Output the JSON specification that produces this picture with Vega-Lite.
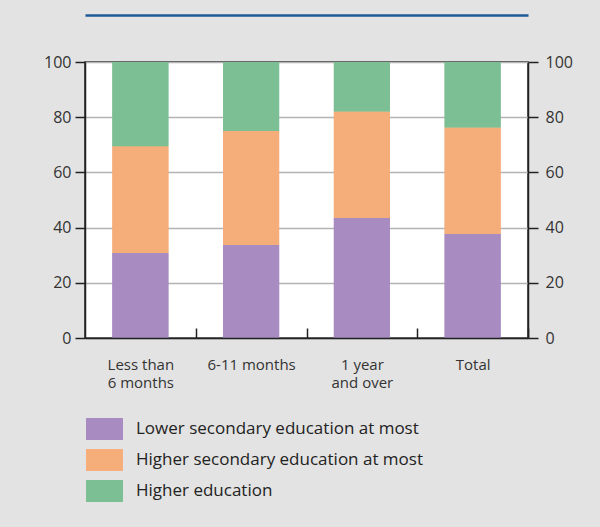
{
  "$schema": "https://vega.github.io/schema/vega-lite/v6.json",
  "autosize": {"type": "none"},
  "width": 443,
  "height": 276,
  "padding": {"left": 85, "top": 62, "right": 72, "bottom": 189},
  "background": "#e3e3e3",
  "config": {
    "font": "Open Sans",
    "view": {"fill": "white", "stroke": "#222", "strokeWidth": 1.5}
  },
  "data": {
    "values": [
      {"period": "Less than 6 months", "level": "Lower secondary education at most", "k": 1, "share": 30.8},
      {"period": "Less than 6 months", "level": "Higher secondary education at most", "k": 2, "share": 38.7},
      {"period": "Less than 6 months", "level": "Higher education", "k": 3, "share": 30.5},
      {"period": "6-11 months", "level": "Lower secondary education at most", "k": 1, "share": 33.7},
      {"period": "6-11 months", "level": "Higher secondary education at most", "k": 2, "share": 41.3},
      {"period": "6-11 months", "level": "Higher education", "k": 3, "share": 25.0},
      {"period": "1 year and over", "level": "Lower secondary education at most", "k": 1, "share": 43.5},
      {"period": "1 year and over", "level": "Higher secondary education at most", "k": 2, "share": 38.6},
      {"period": "1 year and over", "level": "Higher education", "k": 3, "share": 17.9},
      {"period": "Total", "level": "Lower secondary education at most", "k": 1, "share": 37.7},
      {"period": "Total", "level": "Higher secondary education at most", "k": 2, "share": 38.6},
      {"period": "Total", "level": "Higher education", "k": 3, "share": 23.7}
    ]
  },
  "layer": [
    {
      "mark": {"type": "bar"},
      "encoding": {
        "x": {
          "field": "period", "type": "nominal", "sort": null,
          "scale": {"paddingInner": 0.494, "paddingOuter": 0.247},
          "axis": {
            "title": null, "labelAngle": 0, "tickSize": -10, "tickOffset": 55.375, "labelOffset": -55.375, "zindex": 2,
            "tickColor": "#222", "tickWidth": 1.5, "domainColor": "#222", "domainWidth": 1.5,
            "labelFontSize": 15, "labelColor": "#333", "labelLineHeight": 18, "labelPadding": 29,
            "labelBaseline": "top",
            "labelExpr": "datum.value == 'Less than 6 months' ? ['Less than', '6 months'] : datum.value == '1 year and over' ? ['1 year', 'and over'] : datum.value"
          }
        },
        "y": {
          "field": "share", "type": "quantitative", "stack": "zero",
          "scale": {"domain": [0, 100], "nice": false},
          "axis": {
            "title": null, "values": [0, 20, 40, 60, 80, 100], "tickSize": 10, "labelPadding": 4,
            "tickColor": "#222", "tickWidth": 1.5, "domainColor": "#222", "domainWidth": 1.5,
            "grid": true, "gridColor": "#b3b3b3", "gridWidth": 1.5,
            "labelFontSize": 16, "labelColor": "#333"
          }
        },
        "color": {
          "field": "level", "type": "nominal",
          "scale": {
            "domain": ["Lower secondary education at most", "Higher secondary education at most", "Higher education"],
            "range": ["#a78bc1", "#f5ad7a", "#7dbf95"]
          },
          "legend": {
            "orient": "none", "legendX": 8.5, "legendY": 356, "padding": 0, "title": null,
            "symbolType": "M-1.68,-1H1.68V1H-1.68Z", "symbolSize": 484, "symbolStrokeWidth": 0,
            "symbolOpacity": 1, "labelOffset": 20.5, "rowPadding": 9,
            "labelFontSize": 17, "labelColor": "#222", "labelLimit": 400
          }
        },
        "order": {"field": "k", "type": "quantitative"}
      }
    },
    {
      "mark": {"type": "bar"},
      "encoding": {
        "x": {
          "field": "period", "type": "nominal", "sort": null,
          "axis": {
            "orient": "top", "offset": 47, "title": null, "labels": false, "ticks": false,
            "domainColor": "#1f5a96", "domainWidth": 2.5
          }
        },
        "y": {
          "field": "share", "type": "quantitative", "stack": "zero",
          "axis": {
            "orient": "right", "title": null, "values": [0, 20, 40, 60, 80, 100], "tickSize": 10, "labelPadding": 7,
            "tickColor": "#222", "tickWidth": 1.5, "domainColor": "#222", "domainWidth": 1.5,
            "grid": false, "labelFontSize": 16, "labelColor": "#333"
          }
        },
        "color": {"field": "level", "type": "nominal"},
        "order": {"field": "k", "type": "quantitative"}
      }
    }
  ],
  "resolve": {"axis": {"x": "independent", "y": "independent"}}
}
